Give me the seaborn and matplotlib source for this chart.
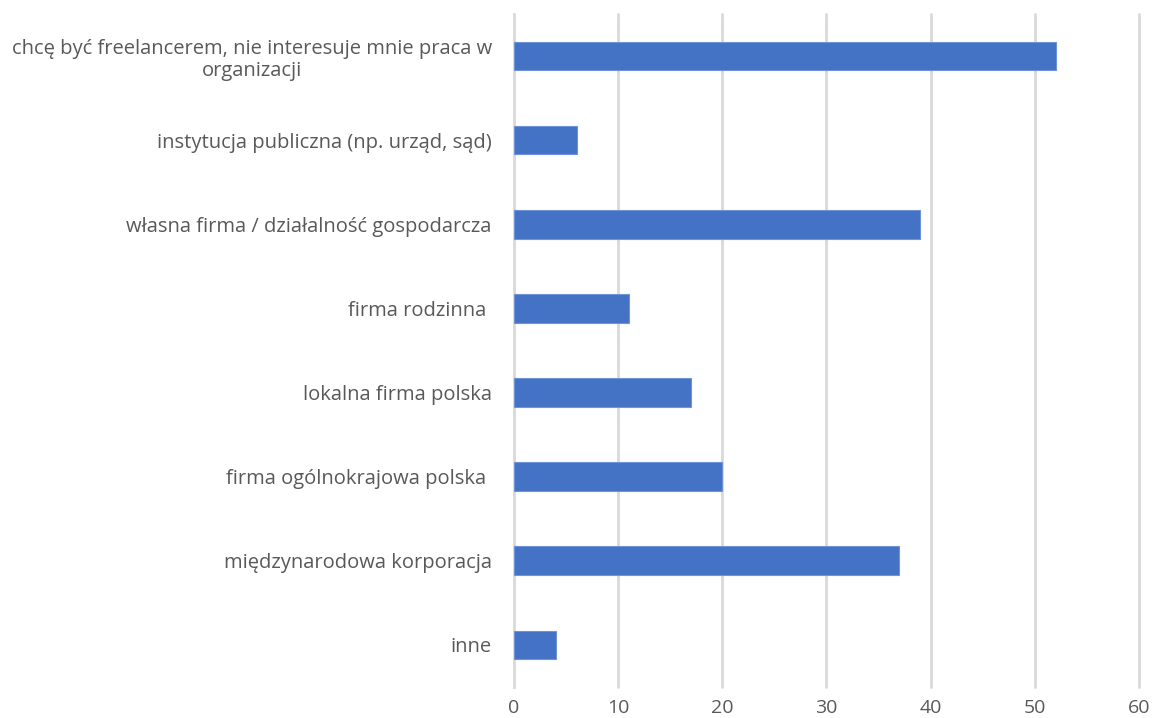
import matplotlib
matplotlib.use("Agg")
import matplotlib.pyplot as plt
import seaborn as sns
import pandas as pd
import numpy as np

categories = [
    "chcę być freelancerem, nie interesuje mnie praca w\norganizacji",
    "instytucja publiczna (np. urząd, sąd)",
    "własna firma / działalność gospodarcza",
    "firma rodzinna ",
    "lokalna firma polska",
    "firma ogólnokrajowa polska ",
    "międzynarodowa korporacja",
    "inne",
]
values = [52, 6, 39, 11, 17, 20, 37, 4]
x_ticks = [0, 10, 20, 30, 40, 50, 60]

sns.set_theme(style="white")
plt.rcParams["font.family"] = ["Open Sans", "DejaVu Sans"]

df = pd.DataFrame({"kategoria": categories, "liczba": values})

fig = plt.figure(figsize=(11.53, 7.18), dpi=100)
ax = fig.add_axes([0.4458, 0.0432, 0.9878 - 0.4458, 0.9805 - 0.0432])

sns.barplot(data=df, x="liczba", y="kategoria", orient="h", color="#4472C4",
            width=0.34, saturation=1, edgecolor="#6E93D6", linewidth=0.8, ax=ax, zorder=3)

grid_c = "#D9D9D9"
ax.set_xlim(0, 60)
ax.set_ylim(len(categories) - 0.5, -0.5)
ax.set_xticks(x_ticks)
ax.set_xticklabels([str(t) for t in x_ticks])
for t in x_ticks[1:]:
    ax.axvline(t, color=grid_c, lw=2, zorder=1, clip_on=False)

for s in ["top", "right", "bottom"]:
    ax.spines[s].set_visible(False)
ax.spines["left"].set_color(grid_c)
ax.spines["left"].set_linewidth(2)

ax.set_xlabel("")
ax.set_ylabel("")
ax.tick_params(axis="x", length=0, pad=9, labelsize=14, labelcolor="#595959")
ax.tick_params(axis="y", which="major", length=0, pad=16, labelsize=14.5, labelcolor="#595959")
ax.set_yticks(np.arange(-0.5, len(categories), 1.0), minor=True)
ax.tick_params(axis="y", which="minor", length=6, width=1.5, color=grid_c)
for lbl in ax.get_yticklabels():
    lbl.set_multialignment("center")
    lbl.set_linespacing(1.15)

fig.savefig("out.png", dpi=100)
